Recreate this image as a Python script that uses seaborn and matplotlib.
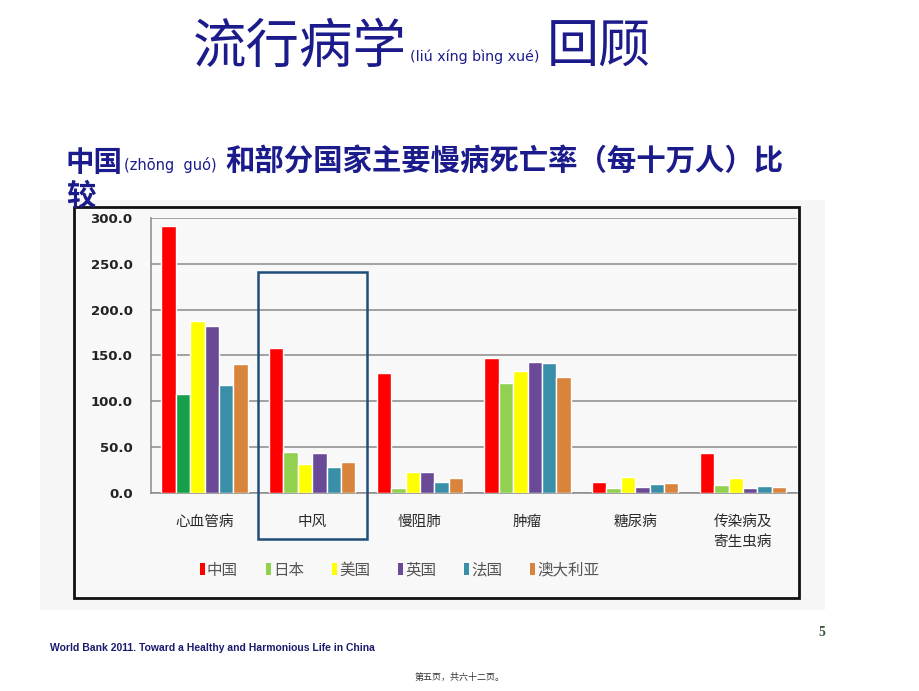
import seaborn as sns
import matplotlib.pyplot as plt
import pandas as pd
from matplotlib.patches import Rectangle, Patch

# 疾病类别
diseases = ['心血管病', '中风', '慢阻肺', '肿瘤', '糖尿病', '传染病及\n寄生虫病']
countries = ['中国', '日本', '美国', '英国', '法国', '澳大利亚']

# 每十万人死亡率
china = [291.0, 158.5, 130.5, 147.5, 11.3, 43.3]
japan = [107.5, 44.8, 4.7, 119.3, 4.7, 8.4]
usa = [187.7, 31.7, 22.9, 132.7, 17.5, 15.6]
uk = [182.0, 43.7, 22.9, 142.5, 5.8, 5.1]
france = [117.7, 28.4, 12.0, 141.1, 9.1, 7.3]
australia = [140.3, 33.9, 16.4, 126.5, 10.2, 6.5]

yticks = [0, 50, 100, 150, 200, 250, 300]

colors = {'中国': '#ff0000', '日本': '#92d050', '美国': '#ffff00',
          '英国': '#6a4a96', '法国': '#3a8fa8', '澳大利亚': '#d8843c'}
NAVY = '#1b1b8c'

df = pd.DataFrame({'疾病': diseases, '中国': china, '日本': japan, '美国': usa,
                   '英国': uk, '法国': france, '澳大利亚': australia})
df_melted = df.melt(id_vars=['疾病'], var_name='国家', value_name='死亡率')

sns.set_style("white")
plt.rcParams['font.family'] = ['Noto Sans CJK SC', 'DejaVu Sans']

fig = plt.figure(figsize=(9.2, 6.91), dpi=100)
W, H = 920, 691

# gray panel and black frame behind the chart
fig.patches.append(Rectangle((40 / W, 1 - 610 / H), 785 / W, 410 / H,
                             transform=fig.transFigure, facecolor='#f6f6f6',
                             edgecolor='none', zorder=-3))
fig.patches.append(Rectangle((74 / W, 1 - 598 / H), 725 / W, 391 / H,
                             transform=fig.transFigure, facecolor='#f8f8f8',
                             edgecolor='#111111', lw=2, zorder=-2))

ax = fig.add_axes([150.7 / W, 1 - 492.7 / H, 646 / W, 274.7 / H])
ax.set_facecolor('#f8f8f8')

sns.barplot(data=df_melted, x='疾病', y='死亡率', hue='国家', palette=colors,
            saturation=1, errorbar=None, width=0.8, ax=ax, legend=False, zorder=3)

# 心血管病的日本柱在原图中是深绿色
ax.containers[1][0].set_facecolor('#16a04a')

ax.set_ylim(0, 300)
ax.set_xlim(-0.5, len(diseases) - 0.5)
ax.set_yticks(yticks)
ax.set_yticklabels([f'{v:.1f}' for v in yticks], fontsize=9.5,
                   fontweight='bold', family='DejaVu Sans', color='#222222')
ax.tick_params(axis='y', length=0, pad=13)
ax.yaxis.grid(True, color='#8a8a8a', lw=1.1, zorder=0)
ax.set_axisbelow(True)
ax.set_xticks(range(len(diseases)))
ax.set_xticklabels(diseases, fontsize=10.5, color='#2a2a2a', linespacing=1.55,
                   va='top')
ax.tick_params(axis='x', length=0, pad=16)
ax.set_xticks([i + 0.5 for i in range(-1, len(diseases))], minor=True)
ax.tick_params(axis='x', which='minor', length=4, color='#8a8a8a', direction='out')
ax.set_xlabel('')
ax.set_ylabel('')
for side in ['top', 'right']:
    ax.spines[side].set_visible(False)
ax.spines['left'].set_color('#8a8a8a')
ax.spines['bottom'].set_color('#8a8a8a')
ax.spines['left'].set_linewidth(1.1)
ax.spines['bottom'].set_linewidth(1.1)

# 中风 highlight box
ax.add_patch(Rectangle((1 - 0.505, -50.8), 1.01, 291.3, fill=False,
                       edgecolor='#1f4e79', lw=1.8, clip_on=False, zorder=5))

handles = [Patch(facecolor=colors[c], edgecolor='none', label=c) for c in countries]
fig.legend(handles=handles, loc='center left', bbox_to_anchor=(186 / W, 1 - 570 / H),
           ncol=6, frameon=False, fontsize=11.2, handlelength=0.35,
           handleheight=0.75, handletextpad=0.1, columnspacing=1.8,
           labelcolor='#555555')

# titles
fig.text(193 / W, 1 - 63 / H, '流行病学', fontsize=38.5, color=NAVY,
         fontweight='light', va='baseline')
fig.text(410 / W, 1 - 61 / H, '(liú xíng bìng xué)', fontsize=10.3, color=NAVY,
         va='baseline', family=['Liberation Sans Narrow', 'DejaVu Sans Condensed', 'DejaVu Sans'])
fig.text(547 / W, 1 - 63 / H, '回顾', fontsize=37.5, color=NAVY,
         fontweight='light', va='baseline')

fig.text(66 / W, 1 - 171 / H, '中国', fontsize=20.5, color=NAVY,
         fontweight='bold', va='baseline')
fig.text(124 / W, 1 - 170 / H, '(zhōng  guó)', fontsize=10.5, color=NAVY,
         va='baseline', family=['Liberation Sans Narrow', 'DejaVu Sans Condensed', 'DejaVu Sans'])
fig.text(225 / W, 1 - 171 / H, '和部分国家主要慢病死亡率（每十万人）比',
         fontsize=21.2, color=NAVY, fontweight='bold', va='baseline')
fig.text(66 / W, 1 - 205 / H, '较', fontsize=21.2, color=NAVY,
         fontweight='bold', va='baseline')

# footer
fig.text(50 / W, 1 - 648 / H,
         'World Bank 2011. Toward a Healthy and Harmonious Life in China',
         fontsize=7.5, fontweight='bold', color='#1b1b6e', va='center',
         family=['Liberation Sans', 'DejaVu Sans'])
fig.text(822 / W, 1 - 632 / H, '5', fontsize=10, fontweight='bold',
         color='#3a5a3a', va='center', ha='center',
         family=['Liberation Serif', 'DejaVu Serif'])
fig.text(460 / W, 1 - 677 / H, '第五页，共六十二页。', fontsize=6.5,
         color='#333333', va='center', ha='center')

fig.savefig('out.png', dpi=100)
